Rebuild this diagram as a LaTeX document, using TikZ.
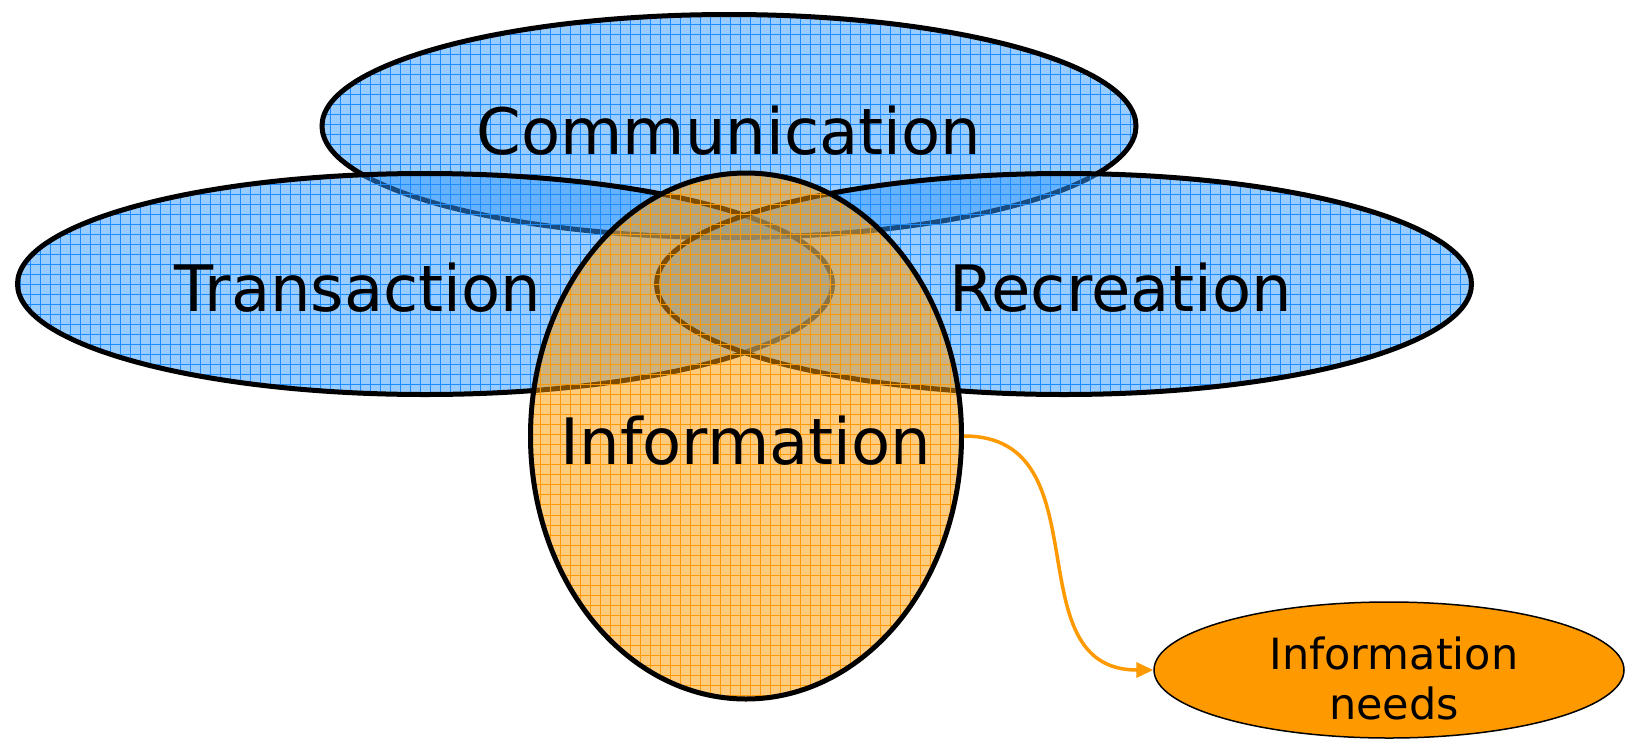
\documentclass[tikz,border=0pt]{standalone}
\usepackage{fontspec}
\setmainfont{DejaVu Sans}
\usetikzlibrary{arrows.meta,shapes.geometric,patterns.meta}
\definecolor{skyfill}{HTML}{3399FF}
\definecolor{skygrid}{HTML}{1A8CFF}
\definecolor{ambfill}{HTML}{FF9900}
\definecolor{ambgrid}{HTML}{FF9900}
\tikzset{
  area/.style={ellipse,draw=black,line width=5pt,fill opacity=0.5,inner sep=0pt},
  bluearea/.style={area,preaction={fill=skyfill},
    pattern={Hatch[angle=0,distance=10pt,line width=1pt]},pattern color=skygrid},
  amberarea/.style={area,preaction={fill=ambfill},
    pattern={Hatch[angle=0,distance=10pt,line width=1pt]},pattern color=ambgrid},
  needbox/.style={ellipse,draw=black,line width=1.5pt,fill=ambfill,inner sep=0pt},
  biglbl/.style={font=\fontsize{64pt}{70pt}\selectfont,inner sep=0pt},
  smalllbl/.style={font=\fontsize{43pt}{50pt}\selectfont,align=center,inner sep=0pt},
  flow/.style={-{Triangle[length=17pt,width=15pt]},draw=ambfill,line width=3.5pt}
}
\begin{document}
\begin{tikzpicture}[x=1pt,y=-1pt]
  \useasboundingbox (0,0) rectangle (1625,745);
  \node[bluearea,minimum width=814pt,minimum height=223pt] (comm) at (729,126) {};
  \node[bluearea,minimum width=815pt,minimum height=221pt] (trans) at (425,284) {};
  \node[bluearea,minimum width=815pt,minimum height=221pt] (recr) at (1064,284) {};
  \node[amberarea,minimum width=431pt,minimum height=526pt] (info) at (746,436) {};
  \node[needbox,minimum width=470pt,minimum height=136pt] (needs) at (1389,670) {};

  \draw[flow] (info.east) to[out=0,in=180,looseness=1.2] (needs.west);

  \node[biglbl] (commtxt) at (729,131) {Communication};
  \node[biglbl] (transtxt) at (358,288) {Transaction};
  \node[biglbl] (recrtxt) at (1121,288) {Recreation};
  \node[biglbl] (infotxt) at (746,441) {Information};
  \node[smalllbl] (needstxt) at (1394,678) {Information\\needs};
\end{tikzpicture}
\end{document}
